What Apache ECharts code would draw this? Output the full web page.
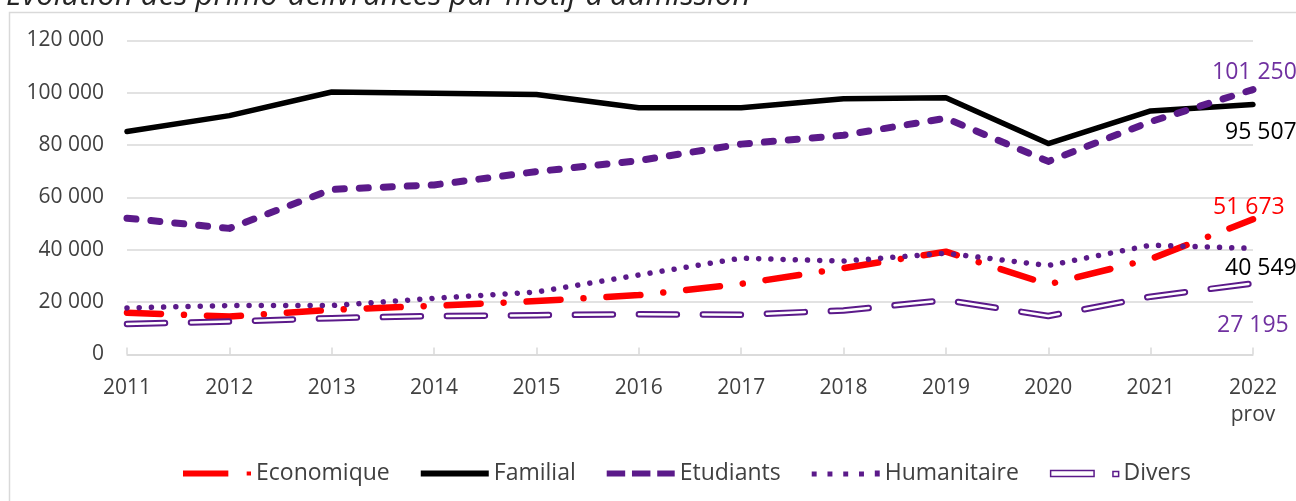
<!DOCTYPE html>
<html>
<head>
<meta charset="utf-8">
<script src="https://cdn.jsdelivr.net/npm/echarts@6/dist/echarts.min.js"></script>
<style>
  html, body { margin: 0; padding: 0; background: #fff; }
  #main { width: 1296px; height: 501px; }
</style>
</head>
<body>
<div id="main"></div>
<script>
(function() {
    // catégories (axe des x)
    var years = ['2011', '2012', '2013', '2014', '2015', '2016', '2017', '2018', '2019', '2020', '2021', '2022'];
    var yearLabels = ['2011', '2012', '2013', '2014', '2015', '2016', '2017', '2018', '2019', '2020', '2021', '2022\nprov'];
    // séries
    var economique = [16000, 14500, 17100, 18600, 20400, 22700, 27000, 33000, 39300, 26800, 36500, 51673];
    var familial = [85200, 91300, 100300, 99800, 99400, 94300, 94300, 97700, 98100, 80600, 93100, 95507];
    var etudiants = [52100, 48200, 63100, 64800, 69900, 74100, 80400, 83800, 90300, 73800, 89000, 101250];
    var humanitaire = [17800, 18700, 18700, 21500, 23900, 30400, 36800, 35700, 38700, 34000, 41800, 40549];
    var divers = [11700, 12600, 13900, 14700, 15000, 15400, 15200, 16800, 20800, 14700, 22100, 27195];
    // graduations de l'axe des y
    var yTicks = [0, 20000, 40000, 60000, 80000, 100000, 120000];

    var FONT = '"Open Sans", "Noto Sans", sans-serif';
    var PURPLE = '#5b1a8a';
    var PURPLE_TXT = '#7030a0';

    function fmt(v) {
        return String(Math.round(v)).replace(/\B(?=(\d{3})+(?!\d))/g, ' ');
    }

    // étiquette uniquement sur le dernier point (2022)
    function withEndLabel(values, color, dx, dy) {
        var last = values.length - 1;
        return values.map(function(v, i) {
            if (i !== last) return v;
            return {
                value: v,
                label: {
                    show: true,
                    position: [dx, dy],
                    align: 'left',
                    verticalAlign: 'middle',
                    color: color,
                    fontSize: 23,
                    fontFamily: FONT,
                    formatter: function(p) { return fmt(p.value); }
                }
            };
        });
    }

    function lineSeries(name, values, color, width, type, z) {
        return {
            name: name,
            type: 'line',
            data: values,
            color: color,
            showSymbol: true,
            symbol: 'circle',
            symbolSize: 0,
            z: z,
            lineStyle: {
                color: color,
                width: width,
                type: type,
                cap: 'round',
                join: 'round'
            },
            emphasis: { disabled: true }
        };
    }

    var myChart = echarts.init(document.getElementById('main'));
    var option = {
        animation: false,
        backgroundColor: '#fff',
        textStyle: { fontFamily: FONT },
        graphic: [{
            type: 'rect',
            shape: { x: 9.5, y: 12.5, width: 1400, height: 600 },
            style: { fill: 'none', stroke: '#d9d9d9', lineWidth: 1.5 },
            silent: true
        }, {
            type: 'text',
            x: 6,
            y: -4,
            style: {
                text: 'Evolution des primo-délivrances par motif d\'admission',
                font: 'italic 31px "Open Sans", sans-serif',
                fill: '#262626',
                verticalAlign: 'middle'
            },
            silent: true
        }],
        grid: {
            left: 127,
            right: 43,
            top: 40.5,
            bottom: 146.5
        },
        legend: {
            left: 178,
            top: 457,
            itemWidth: 68,
            itemHeight: 6,
            itemGap: 31,
            symbolKeepAspect: false,
            textStyle: { fontSize: 23, color: '#404040', fontFamily: FONT },
            data: [{
                name: 'Economique',
                icon: 'path://M0,0H42V6H0Z M59,1H63V5H59Z'
            }, {
                name: 'Familial',
                icon: 'path://M0,0H70V6H0Z'
            }, {
                name: 'Etudiants',
                icon: 'path://M0,0H19V6H0Z M26,0H45V6H26Z M52,0H70V6H52Z'
            }, {
                name: 'Humanitaire',
                icon: 'path://M0,1H5V6H0Z M16,1H21V6H16Z M32,1H37V6H32Z M48,1H53V6H48Z M64,0H69V6H64Z'
            }, {
                name: 'Divers',
                icon: 'path://M0,0H46V6H0Z M66,1H72V6H66Z',
                itemStyle: { color: '#fff', borderColor: PURPLE, borderWidth: 1.5 }
            }]
        },
        xAxis: {
            type: 'category',
            data: years,
            boundaryGap: false,
            axisLine: { lineStyle: { color: '#d9d9d9', width: 1.5 } },
            axisTick: { inside: true, length: 7, lineStyle: { color: '#d9d9d9', width: 1.5 } },
            axisLabel: {
                color: '#404040',
                fontSize: 21,
                lineHeight: 27,
                margin: 20,
                formatter: function(v, i) { return yearLabels[i]; }
            },
            splitLine: { show: false }
        },
        yAxis: {
            type: 'value',
            min: yTicks[0],
            max: yTicks[yTicks.length - 1],
            interval: yTicks[1] - yTicks[0],
            axisLine: { show: false },
            axisTick: { show: false },
            axisLabel: {
                color: '#404040',
                fontSize: 21,
                margin: 23,
                formatter: function(v) { return fmt(v); }
            },
            splitLine: { lineStyle: { color: '#d9d9d9', width: 1.5 } }
        },
        series: [
            lineSeries('Economique', withEndLabel(economique, '#ff0000', -40, -12), '#ff0000', 6.5, [34, 23, 0.01, 23], 2),
            lineSeries('Familial', withEndLabel(familial, '#000000', -28, 28), '#000000', 5.5, 'solid', 3),
            lineSeries('Etudiants', withEndLabel(etudiants, PURPLE_TXT, -41, -17), PURPLE, 7, [9, 15], 4),
            lineSeries('Humanitaire', withEndLabel(humanitaire, '#000000', -28, 20), PURPLE, 5.5, [0.01, 12.2], 5),
            lineSeries('Divers', withEndLabel(divers, PURPLE_TXT, -36, 42), PURPLE, 6.5, [38, 26], 6),
            // trait intérieur blanc (ligne creuse)
            lineSeries('Divers_inner', divers, '#ffffff', 2.5, [38, 26], 7)
        ]
    };
    myChart.setOption(option);
})();
</script>
</body>
</html>
